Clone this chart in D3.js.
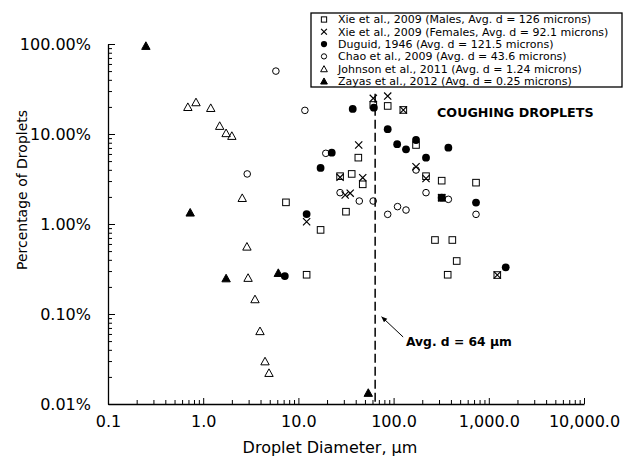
<!DOCTYPE html>
<html>
<head>
<meta charset="utf-8">
<script src="https://cdn.jsdelivr.net/npm/d3@7"></script>
<style>
  body { margin: 0; background: #fff; }
  svg { display: block; }
  text { font-family: "DejaVu Sans", Verdana, sans-serif; }
</style>
</head>
<body>
<div id="chart"></div>
<script>
// droplet diameters (microns) and percentage of droplets
var xieMalesD   = [7.4, 12.2, 17.1, 27.4, 31.6, 36.3, 42.6, 47.4, 61.2, 86.7, 126.5, 172, 219, 320, 320, 272, 414, 460, 370, 734, 1228];
var xieMalesPct = [1.74, 0.273, 0.86, 3.4, 1.37, 3.6, 5.46, 2.76, 21, 20.5, 18.5, 7.55, 3.4, 3.03, 1.96, 0.664, 0.664, 0.388, 0.273, 2.88, 0.271];

var xieFemalesD   = [12.2, 27.4, 31, 35, 43, 47.4, 61.2, 86.7, 126.5, 172, 219, 320, 1228];
var xieFemalesPct = [1.06, 3.3, 2.1, 2.2, 7.55, 3.27, 24.9, 26.4, 18.5, 4.33, 3.2, 1.96, 0.271];

var duguidD   = [7.2, 12.2, 17.1, 22.4, 37.2, 62, 86.7, 109, 135, 172, 219, 320, 376, 734, 1506];
var duguidPct = [0.264, 1.29, 4.2, 6.2, 19.0, 19.6, 11.3, 7.7, 6.76, 8.58, 5.46, 1.96, 7.05, 1.73, 0.33];

var chaoD   = [2.9, 5.8, 11.7, 19.4, 27.4, 43.6, 61, 86.7, 110, 135, 172, 219, 376, 734];
var chaoPct = [3.6, 50, 18.3, 6.1, 2.23, 1.8, 1.8, 1.28, 1.56, 1.43, 3.98, 2.23, 1.88, 1.28];

var johnsonD   = [0.69, 0.84, 1.2, 1.49, 1.74, 2.0, 2.57, 2.88, 2.96, 3.5, 3.95, 4.46, 4.91];
var johnsonPct = [20.1, 22.7, 19.6, 12.4, 10.3, 9.6, 1.96, 0.565, 0.254, 0.147, 0.065, 0.030, 0.0223];

var zayasD   = [0.25, 0.73, 1.74, 6.15, 54.2];
var zayasPct = [96, 1.35, 0.251, 0.288, 0.0134];

var seriesNames = [
  "Xie et al., 2009 (Males, Avg. d = 126 microns)",
  "Xie et al., 2009 (Females, Avg. d = 92.1 microns)",
  "Duguid, 1946 (Avg. d = 121.5 microns)",
  "Chao et al., 2009 (Avg. d = 43.6 microns)",
  "Johnson et al., 2011 (Avg. d = 1.24 microns)",
  "Zayas et al., 2012 (Avg. d = 0.25 microns)"
];

var xTicks = [0.1, 1, 10, 100, 1000, 10000];
var xTickLabels = ["0.1", "1.0", "10.0", "100.0", "1,000.0", "10,000.0"];
var yTicks = [0.01, 0.1, 1, 10, 100];
var yTickLabels = ["0.01%", "0.10%", "1.00%", "10.00%", "100.00%"];

var avgD = 64;

// Define SVG area dimensions
var svgWidth = 624;
var svgHeight = 459;
var margin = {top: 44, right: 40, bottom: 55, left: 108};
var chartWidth = svgWidth - margin.left - margin.right;
var chartHeight = svgHeight - margin.top - margin.bottom;

var svg = d3.select("#chart")
  .append("svg")
    .attr("width", svgWidth)
    .attr("height", svgHeight);

var chartGroup = svg.append("g")
  .attr("transform", `translate(${margin.left}, ${margin.top})`);

var x = d3.scaleLog().domain([0.1, 10000]).range([0, chartWidth]);
var y = d3.scaleLog().domain([0.01, 100]).range([chartHeight, 0]);

// minor tick positions (2..9 in each decade)
function minorTicks(lo, hi) {
  var out = [];
  for (var e = lo; e < hi; e++) {
    for (var k = 2; k <= 9; k++) out.push(k * Math.pow(10, e));
  }
  return out;
}

// axes: ticks point into the plot
var xMinor = chartGroup.append("g")
  .attr("transform", `translate(0, ${chartHeight})`)
  .call(d3.axisBottom(x).tickValues(minorTicks(-1, 4)).tickSizeInner(-4).tickSizeOuter(0).tickFormat(""));
xMinor.select(".domain").remove();

var xAxis = chartGroup.append("g")
  .attr("transform", `translate(0, ${chartHeight})`)
  .call(d3.axisBottom(x).tickValues(xTicks).tickFormat((d, i) => xTickLabels[i])
    .tickSizeInner(-6).tickSizeOuter(0).tickPadding(12));
xAxis.selectAll("text").attr("font-size", 16).attr("font-family", "DejaVu Sans, Verdana, sans-serif").attr("fill", "#000");

var yMinor = chartGroup.append("g")
  .call(d3.axisLeft(y).tickValues(minorTicks(-2, 2)).tickSizeInner(-4).tickSizeOuter(0).tickFormat(""));
yMinor.select(".domain").remove();

var yAxis = chartGroup.append("g")
  .call(d3.axisLeft(y).tickValues(yTicks).tickFormat((d, i) => yTickLabels[i])
    .tickSizeInner(-7).tickSizeOuter(0).tickPadding(17));
yAxis.selectAll("text").attr("font-size", 16).attr("font-family", "DejaVu Sans, Verdana, sans-serif").attr("fill", "#000");

chartGroup.selectAll(".domain").attr("stroke", "#000").attr("stroke-width", 1.3);
chartGroup.selectAll(".tick line").attr("stroke", "#000");

// axis titles
svg.append("text")
  .attr("transform", "rotate(-90)")
  .attr("x", -190)
  .attr("y", 22)
  .attr("dy", "0.35em")
  .style("text-anchor", "middle")
  .attr("font-size", 14)
  .text("Percentage of Droplets");

svg.append("text")
  .attr("x", 330)
  .attr("y", 447)
  .attr("dy", "0.35em")
  .style("text-anchor", "middle")
  .attr("font-size", 16)
  .text("Droplet Diameter, \u03bcm");

// marker shapes
function marker(g, type, cx, cy, s) {
  s = s || 1;
  if (type === "square") {
    g.append("rect").attr("x", cx - 3.3 * s).attr("y", cy - 3.3 * s)
      .attr("width", 6.6 * s).attr("height", 6.6 * s)
      .attr("fill", "none").attr("stroke", "#000").attr("stroke-width", 1);
  } else if (type === "cross") {
    var h = 3.6 * s;
    g.append("path").attr("d", `M${cx - h},${cy - h}L${cx + h},${cy + h}M${cx - h},${cy + h}L${cx + h},${cy - h}`)
      .attr("stroke", "#000").attr("stroke-width", 1.2);
  } else if (type === "dot") {
    g.append("circle").attr("cx", cx).attr("cy", cy).attr("r", 3.9 * s).attr("fill", "#000");
  } else if (type === "ring") {
    g.append("circle").attr("cx", cx).attr("cy", cy).attr("r", 3.3 * s)
      .attr("fill", "none").attr("stroke", "#000").attr("stroke-width", 1);
  } else {
    var w = 4.2 * s, hh = 3.8 * s;
    g.append("path").attr("d", `M${cx},${cy - hh}L${cx + w},${cy + hh}L${cx - w},${cy + hh}Z`)
      .attr("fill", type === "tri" ? "#000" : "none")
      .attr("stroke", "#000").attr("stroke-width", 1);
  }
}

var seriesTypes = ["square", "cross", "dot", "ring", "opentri", "tri"];
var seriesData = [
  [xieMalesD, xieMalesPct],
  [xieFemalesD, xieFemalesPct],
  [duguidD, duguidPct],
  [chaoD, chaoPct],
  [johnsonD, johnsonPct],
  [zayasD, zayasPct]
];

// average-diameter dashed line
chartGroup.append("line")
  .attr("x1", x(avgD)).attr("x2", x(avgD))
  .attr("y1", y(28)).attr("y2", y(0.01))
  .attr("stroke", "#000").attr("stroke-width", 1.5)
  .attr("stroke-dasharray", "9,4");

seriesData.forEach(function(sd, si) {
  var g = chartGroup.append("g");
  sd[0].forEach(function(d, i) {
    marker(g, seriesTypes[si], x(d), y(sd[1][i]));
  });
});

// annotations
svg.append("defs").append("marker")
  .attr("id", "arrow").attr("viewBox", "0 0 10 10")
  .attr("refX", 9).attr("refY", 5)
  .attr("markerWidth", 6).attr("markerHeight", 6)
  .attr("orient", "auto")
  .append("path").attr("d", "M0,1L10,5L0,9Z").attr("fill", "#000");

chartGroup.append("line")
  .attr("x1", x(126)).attr("y1", y(0.0555))
  .attr("x2", x(75)).attr("y2", y(0.093))
  .attr("stroke", "#000").attr("stroke-width", 1)
  .attr("marker-end", "url(#arrow)");

chartGroup.append("text")
  .attr("x", x(135)).attr("y", y(0.044))
  .attr("font-size", 12.3).attr("font-weight", "bold")
  .text("Avg. d = 64 \u03bcm");

chartGroup.append("text")
  .attr("x", x(286)).attr("y", y(15.5))
  .attr("font-size", 12.7).attr("font-weight", "bold")
  .text("COUGHING DROPLETS");

// legend
var legend = svg.append("g");
legend.append("rect")
  .attr("x", 311).attr("y", 13).attr("width", 311).attr("height", 74)
  .attr("fill", "#fff").attr("stroke", "#000").attr("stroke-width", 1.3);
seriesNames.forEach(function(name, i) {
  var ly = 19.5 + i * 12.3;
  marker(legend, seriesTypes[i], 324, ly, 0.8);
  legend.append("text")
    .attr("x", 338).attr("y", ly)
    .attr("dy", "0.35em")
    .attr("font-size", 11)
    .text(name);
});
</script>
</body>
</html>
